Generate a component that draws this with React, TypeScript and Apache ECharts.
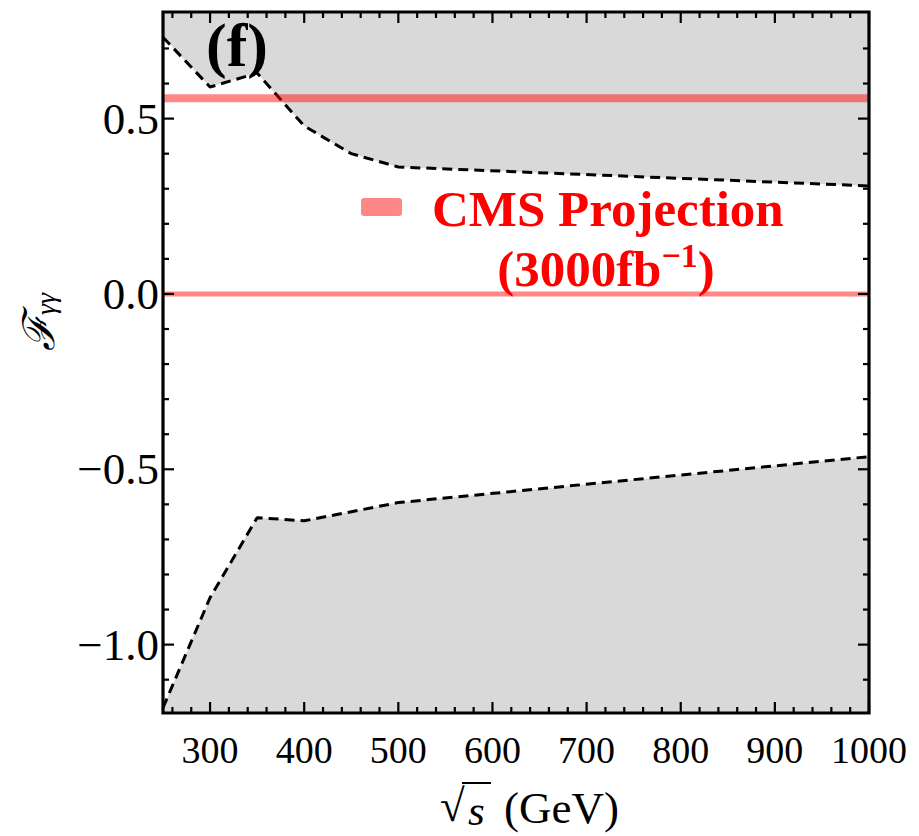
import React, { useEffect, useRef } from "react";
import * as echarts from "echarts";

const upperX = [250, 300, 350, 400, 450, 500, 1000];
const upperY = [0.732, 0.59, 0.63, 0.479, 0.4, 0.362, 0.308];
const lowerX = [250, 300, 350, 400, 500, 1000];
const lowerY = [-1.18, -0.866, -0.638, -0.647, -0.595, -0.464];
const bandX = [250, 1000];
const cmsUpper = [0.558, 0.558];
const cmsZero = [0, 0];

const xMajor = [300, 400, 500, 600, 700, 800, 900, 1000];
const xMinor = [260, 280, 320, 340, 360, 380, 420, 440, 460, 480, 520, 540, 560, 580, 620, 640, 660, 680, 720, 740, 760, 780, 820, 840, 860, 880, 920, 940, 960, 980];
const yMajor = [-1.0, -0.5, 0.0, 0.5];
const yMinor = [-1.1, -0.9, -0.8, -0.7, -0.6, -0.4, -0.3, -0.2, -0.1, 0.1, 0.2, 0.3, 0.4, 0.6, 0.7];

const FONT = "'Liberation Serif', 'Times New Roman', serif";
const BAND = "rgba(255,0,0,0.47)";
const GRAY = "#d9d9d9";

export default function App() {
  const ref = useRef<HTMLDivElement>(null);
  useEffect(() => {
    if (!ref.current) return;
    const chart = echarts.init(ref.current, null, { renderer: "svg" });
    const X_MIN = 250, X_MAX = 1000, Y_MIN = -1.195, Y_MAX = 0.804;
    const pts = (xs: number[], ys: number[]) => xs.map((x, i) => [x, ys[i]]);

    // frame ticks drawn through the axes' scales (custom series)
    const xTickSeries = (ticks: number[], len: number) => ({
      type: "custom", z: 20, silent: true, clip: false,
      data: ticks.map((v) => [v, Y_MIN]),
      renderItem: (params: any, api: any) => {
        const v = api.value(0);
        const b = api.coord([v, Y_MIN]);
        const t = api.coord([v, Y_MAX]);
        const st = { stroke: "#000", lineWidth: 2.2 };
        return {
          type: "group",
          children: [
            { type: "line", shape: { x1: b[0], y1: b[1], x2: b[0], y2: b[1] - len }, style: st },
            { type: "line", shape: { x1: t[0], y1: t[1], x2: t[0], y2: t[1] + len }, style: st },
          ],
        };
      },
    });
    const yTickSeries = (ticks: number[], len: number) => ({
      type: "custom", z: 20, silent: true, clip: false,
      data: ticks.map((v) => [X_MIN, v]),
      renderItem: (params: any, api: any) => {
        const v = api.value(1);
        const l = api.coord([X_MIN, v]);
        const r = api.coord([X_MAX, v]);
        const st = { stroke: "#000", lineWidth: 2.2 };
        return {
          type: "group",
          children: [
            { type: "line", shape: { x1: l[0], y1: l[1], x2: l[0] + len, y2: l[1] }, style: st },
            { type: "line", shape: { x1: r[0], y1: r[1], x2: r[0] - len, y2: r[1] }, style: st },
          ],
        };
      },
    });

    chart.setOption({
      animation: false,
      backgroundColor: "#fff",
      grid: { left: 163, right: 50, top: 12, bottom: 123, containLabel: false },
      xAxis: {
        type: "value", min: X_MIN, max: X_MAX, position: "bottom",
        axisLine: { show: false, onZero: false },
        axisTick: { show: false },
        axisLabel: { show: true, customValues: xMajor, color: "#000", fontSize: 38, fontFamily: FONT, margin: 18, formatter: (v: number) => String(v) },
        splitLine: { show: false },
      },
      yAxis: {
        type: "value", min: Y_MIN, max: Y_MAX, position: "left",
        axisLine: { show: false, onZero: false },
        axisTick: { show: false },
        axisLabel: {
          show: true, customValues: yMajor, color: "#000", fontSize: 45, fontFamily: FONT, margin: 4,
          formatter: (v: number) => (v < 0 ? "\u2212" : "") + Math.abs(v).toFixed(1),
        },
        splitLine: { show: false },
      },
      series: [
        {
          type: "line", name: "upper", data: pts(upperX, upperY), symbol: "none", z: 1,
          lineStyle: { color: "#000", width: 3, type: [10, 6] },
          areaStyle: { origin: "end", color: GRAY, opacity: 1 },
        },
        {
          type: "line", name: "lower", data: pts(lowerX, lowerY), symbol: "none", z: 1,
          lineStyle: { color: "#000", width: 3, type: [10, 6] },
          areaStyle: { origin: "start", color: GRAY, opacity: 1 },
        },
        {
          type: "line", name: "CMS upper", data: pts(bandX, cmsUpper), symbol: "none", z: 3,
          lineStyle: { color: BAND, width: 8 },
        },
        {
          type: "line", name: "CMS zero", data: pts(bandX, cmsZero), symbol: "none", z: 3,
          lineStyle: { color: BAND, width: 5 },
        },
        xTickSeries(xMajor, 11),
        xTickSeries(xMinor, 6),
        yTickSeries(yMajor, 11),
        yTickSeries(yMinor, 6),
      ],
    });

    const px = (v: number) => chart.convertToPixel({ xAxisIndex: 0 }, v) as number;
    const py = (v: number) => chart.convertToPixel({ yAxisIndex: 0 }, v) as number;
    const L = px(X_MIN), R = px(X_MAX), T = py(Y_MAX), B = py(Y_MIN);

    chart.setOption({
      graphic: [
        {
          type: "rect", shape: { x: L, y: T, width: R - L, height: B - T }, z: 100, zlevel: 1, silent: true,
          style: { fill: "none", stroke: "#000", lineWidth: 3.2 },
        },
        {
          type: "text", left: 206, top: 14, z: 10,
          style: { text: "(f)", font: `bold 62px ${FONT}`, fill: "#000" },
        },
        {
          type: "rect", shape: { x: 361, y: 198, width: 41, height: 18, r: 3 }, z: 10,
          style: { fill: BAND },
        },
        {
          type: "text", x: 432, y: 209, z: 10,
          style: { text: "CMS Projection", font: `bold 51px ${FONT}`, lineHeight: 36, fill: "#ff0000", verticalAlign: "middle", align: "left" },
        },
        {
          type: "text", x: 606, y: 266, z: 10,
          style: {
            text: "{a|(3000fb}{s|\u22121}{a|)}", align: "center", verticalAlign: "middle",
            rich: {
              a: { font: `bold 51px ${FONT}`, fill: "#ff0000", verticalAlign: "bottom" } as any,
              s: { font: `bold 34px ${FONT}`, fill: "#ff0000", verticalAlign: "top", padding: [0, 0, 22, 0] } as any,
            },
          },
        },
        {
          type: "text", x: 38, y: 322, rotation: Math.PI / 2, z: 10,
          style: {
            text: "{f|\u2131}{g|\u03b3\u03b3}", align: "center", verticalAlign: "middle",
            rich: {
              f: { font: `italic 44px 'DejaVu Serif', ${FONT}`, fill: "#000" } as any,
              g: { font: `italic 28px ${FONT}`, fill: "#000", padding: [14, 0, 0, 0] } as any,
            },
          },
        },
        {
          type: "text", x: 440, y: 806, z: 10,
          style: { text: "\u221a", font: `45px ${FONT}`, fill: "#000", verticalAlign: "middle", align: "left" },
        },
        {
          type: "line", shape: { x1: 462, y1: 783, x2: 491, y2: 783 }, z: 10,
          style: { stroke: "#000", lineWidth: 2 },
        },
        {
          type: "text", x: 468, y: 810, z: 10,
          style: { text: "s", font: `italic 43px ${FONT}`, fill: "#000", verticalAlign: "middle", align: "left" },
        },
        {
          type: "text", x: 504, y: 808, z: 10,
          style: { text: "(GeV)", font: `45px ${FONT}`, fill: "#000", verticalAlign: "middle", align: "left" },
        },
      ],
    });
    return () => chart.dispose();
  }, []);
  return <div ref={ref} style={{ width: 919, height: 836, position: "absolute", left: 0, top: 0 }} />;
}
